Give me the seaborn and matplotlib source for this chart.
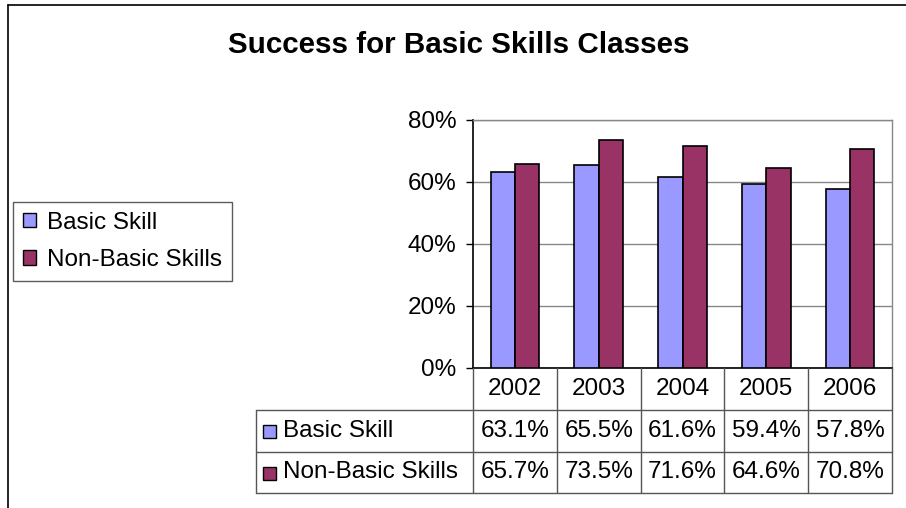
import pandas as pd
import matplotlib
matplotlib.use('Agg')
import matplotlib.pyplot as plt
import matplotlib.transforms as mtransforms
from matplotlib.lines import Line2D
from matplotlib.patches import Patch, Rectangle
from matplotlib.ticker import PercentFormatter
import seaborn as sns

# data
years = ['2002', '2003', '2004', '2005', '2006']
series = ['Basic Skill', 'Non-Basic Skills']
basic = [0.631, 0.655, 0.616, 0.594, 0.578]
non_basic = [0.657, 0.735, 0.716, 0.646, 0.708]
colors = ['#9999FF', '#993366']

df = pd.DataFrame({
    'year': years * 2,
    'series': [series[0]] * len(years) + [series[1]] * len(years),
    'value': basic + non_basic,
})

sns.set_theme(style='white')
plt.rcParams['font.family'] = ['Liberation Sans', 'DejaVu Sans']
plt.rcParams['text.color'] = 'black'

W, H = 906, 508
FS = 17.5
fig = plt.figure(figsize=(W / 100, H / 100), dpi=100)

def fx(p):
    return p / W

def fy(p):
    return 1 - p / H

ax = fig.add_axes([fx(473), fy(368), (892 - 473) / W, (368 - 120) / H])
sns.barplot(data=df, x='year', y='value', hue='series', order=years, hue_order=series,
            palette=dict(zip(series, colors)), width=0.58, edgecolor='black',
            linewidth=1.2, saturation=1, legend=False, ax=ax, zorder=3)

ax.set_xlim(-0.5, len(years) - 0.5)
ax.set_ylim(0, 0.8)
ax.set_yticks([0, 0.2, 0.4, 0.6, 0.8])
ax.yaxis.set_major_formatter(PercentFormatter(1, decimals=0))
ax.set_xlabel('')
ax.set_ylabel('')
ax.set_xticks([])
ax.grid(axis='y', color='#888888', linewidth=1, zorder=0)
ax.tick_params(axis='y', left=True, length=5, width=1, color='black', pad=7,
               labelsize=FS, labelcolor='black')
for side in ['left', 'bottom']:
    ax.spines[side].set_color('black')
    ax.spines[side].set_linewidth(1.2)
for side in ['top', 'right']:
    ax.spines[side].set_color('#888888')
    ax.spines[side].set_linewidth(1)

fig.text(fx(459), fy(45), 'Success for Basic Skills Classes', ha='center', va='center',
         fontsize=21.3, fontweight='bold', color='black')

# legend
handles = [Patch(facecolor=c, edgecolor='black', linewidth=1) for c in colors]
leg = fig.legend(handles, series, loc='upper left', bbox_to_anchor=(fx(13), fy(202)),
                 fontsize=FS, frameon=True, fancybox=False, handlelength=0.55,
                 handleheight=0.55, handletextpad=0.45, labelspacing=0.62,
                 borderpad=0.4, borderaxespad=0)
leg.get_frame().set_edgecolor('#333333')
leg.get_frame().set_linewidth(1)

# data table below the axes, columns tied to the bar positions
tr = mtransforms.blended_transform_factory(ax.transData, fig.transFigure)
line_col = '#555555'
row_tops = [368, 410, 452, 493]
for i in range(len(years) + 1):
    fig.add_artist(Line2D([i - 0.5, i - 0.5], [fy(368), fy(493)], transform=tr,
                          color=line_col, linewidth=1))
fig.add_artist(Line2D([fx(256), fx(256)], [fy(410), fy(493)], color=line_col, linewidth=1))
for yy in row_tops[1:]:
    fig.add_artist(Line2D([fx(256), fx(892)], [fy(yy), fy(yy)], color=line_col, linewidth=1))

for i, y in enumerate(years):
    fig.text(i, fy(389), y, transform=tr, ha='center', va='center', fontsize=FS)

for r, (name, vals, c) in enumerate(zip(series, [basic, non_basic], colors)):
    yc = (row_tops[r + 1] + row_tops[r + 2]) / 2
    fig.add_artist(Rectangle((fx(263), fy(yc + 7)), 13 / W, 13 / H, facecolor=c,
                             edgecolor='black', linewidth=1, transform=fig.transFigure))
    fig.text(fx(283), fy(yc), name, ha='left', va='center', fontsize=FS)
    for i, v in enumerate(vals):
        fig.text(i, fy(yc), f'{v:.1%}', transform=tr, ha='center', va='center', fontsize=FS)

# outer chart border (left and top edges visible)
fig.add_artist(Line2D([fx(8), fx(8)], [fy(5), 0], color='black', linewidth=1.2))
fig.add_artist(Line2D([fx(8), 1], [fy(5), fy(5)], color='black', linewidth=1.2))

fig.savefig('out.png', dpi=100)
